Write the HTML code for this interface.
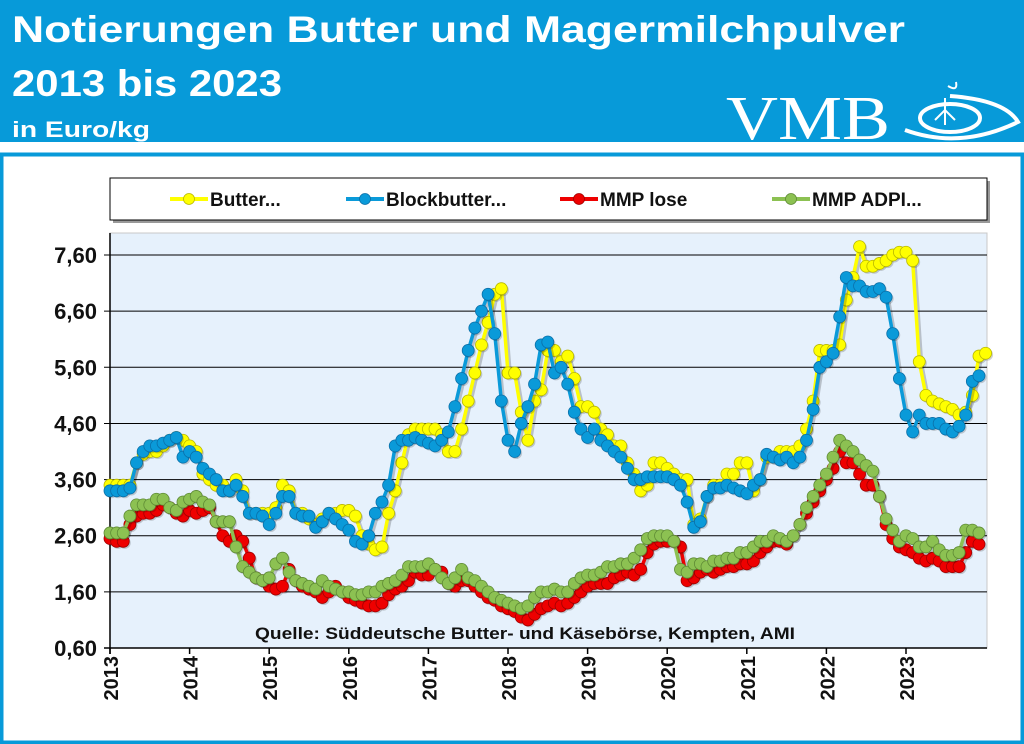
<!DOCTYPE html>
<html><head><meta charset="utf-8"><style>
html,body{margin:0;padding:0;background:#fff;}
svg{display:block;}
text{font-family:"Liberation Sans",sans-serif;}
</style></head><body>
<svg id="s" width="1024" height="744" viewBox="0 0 1024 744" xmlns="http://www.w3.org/2000/svg">
<rect x="0" y="0" width="1024" height="142" fill="#079ad9"/>
<rect x="1.5" y="154.5" width="1021" height="588" fill="#fff" stroke="#079ad9" stroke-width="4"/>
<text x="12" y="42" fill="#fff" font-size="37" font-weight="bold" textLength="893" lengthAdjust="spacingAndGlyphs">Notierungen Butter und Magermilchpulver</text>
<text x="12" y="96" fill="#fff" font-size="37" font-weight="bold" textLength="270" lengthAdjust="spacingAndGlyphs">2013 bis 2023</text>
<text x="12" y="137" fill="#fff" font-size="22" font-weight="bold" textLength="138" lengthAdjust="spacingAndGlyphs">in Euro/kg</text>
<text x="726" y="139" fill="#fff" font-size="62" textLength="164" lengthAdjust="spacingAndGlyphs" style="font-family:'Liberation Serif',serif">VMB</text>
<g fill="none" stroke="#fff">
<ellipse cx="950" cy="118" rx="30" ry="14" stroke-width="4"/>
<path d="M905 130 Q960 150 1018 122 Q1005 100 950 96" stroke-width="4"/>
<path d="M945 98 L945 125 M935 120 L945 110 L955 120" stroke-width="2"/>
<path d="M948 86 Q958 92 956 82" stroke-width="2"/>
</g>
<rect x="113" y="181" width="877" height="42" fill="#999"/>
<rect x="110" y="178" width="877" height="42" fill="#fff" stroke="#000" stroke-width="1"/>
<g id="leg"></g>
<rect x="110" y="233" width="877" height="415" fill="#e6f1fc" stroke="#c8c8c8"/>
<g id="grid"></g>
<text x="525" y="639" font-size="16.5" font-weight="bold" text-anchor="middle" fill="#111" textLength="540" lengthAdjust="spacingAndGlyphs">Quelle: Süddeutsche Butter- und Käsebörse, Kempten, AMI</text>
<g id="ser"></g>
</svg>
<script>
const NS="http://www.w3.org/2000/svg";
function el(p,t,a,txt){const e=document.createElementNS(NS,t);for(const k in a)e.setAttribute(k,a[k]);if(txt!=null)e.textContent=txt;p.appendChild(e);return e;}
const X0=110,YR=79.6,y=v=>648-(v-0.6)*56.14;
const g=document.getElementById('grid');
for(let i=0;i<8;i++){const v=0.6+i,yy=y(v);
 if(i>0)el(g,'line',{x1:104,x2:987,y1:yy,y2:yy,stroke:'#000','stroke-width':1});
 el(g,'text',{x:97,y:yy+8,'font-size':22,'font-weight':'bold','text-anchor':'end',fill:'#111'},v.toFixed(2).replace('.',','));}
el(g,'line',{x1:110,x2:110,y1:233,y2:654,stroke:'#000','stroke-width':1.5});
el(g,'line',{x1:104,x2:987,y1:648,y2:648,stroke:'#000','stroke-width':1.5});
for(let i=0;i<11;i++){const xx=X0+i*YR;
 el(g,'line',{x1:xx,x2:xx,y1:648,y2:654,stroke:'#000','stroke-width':1.5});
 el(g,'text',{x:0,y:0,'font-size':20,'font-weight':'bold','text-anchor':'end',fill:'#111',transform:`translate(${xx+8},656) rotate(-90)`},2013+i);}
const B=[3.5,3.5,3.5,3.5,3.9,4.05,4.1,4.1,4.2,4.3,4.35,4.3,4.2,4.1,3.7,3.6,3.5,3.5,3.4,3.6,3.4,3.0,3.0,3.0,3.0,3.1,3.5,3.4,3.0,3.0,2.9,2.8,2.9,3.0,3.0,3.05,3.05,2.95,2.6,2.45,2.35,2.4,3.0,3.4,3.9,4.4,4.5,4.5,4.5,4.5,4.4,4.1,4.1,4.5,5.0,5.5,6.0,6.4,6.9,7.0,5.5,5.5,4.8,4.3,5.0,5.2,5.9,5.9,5.7,5.8,5.4,4.9,4.9,4.8,4.5,4.4,4.2,4.2,3.9,3.7,3.4,3.5,3.9,3.9,3.8,3.7,3.6,3.6,2.8,2.9,3.3,3.5,3.5,3.7,3.7,3.9,3.9,3.4,3.6,4.0,4.0,4.1,4.1,4.1,4.2,4.5,5.0,5.9,5.9,5.9,6.0,6.8,7.2,7.75,7.4,7.4,7.45,7.5,7.6,7.65,7.65,7.5,5.7,5.1,5.0,4.95,4.9,4.85,4.75,4.8,5.1,5.8,5.85];
const K=[3.4,3.4,3.4,3.45,3.9,4.1,4.2,4.2,4.25,4.3,4.35,4.0,4.1,4.0,3.8,3.7,3.6,3.4,3.4,3.5,3.3,3.0,3.0,2.95,2.8,3.0,3.3,3.3,3.0,2.95,2.95,2.75,2.85,3.0,2.9,2.8,2.7,2.5,2.45,2.6,3.0,3.2,3.5,4.2,4.3,4.3,4.35,4.3,4.25,4.2,4.3,4.45,4.9,5.4,5.9,6.3,6.6,6.9,6.2,5.0,4.3,4.1,4.6,4.9,5.3,6.0,6.05,5.5,5.6,5.3,4.8,4.5,4.35,4.5,4.3,4.2,4.1,4.0,3.8,3.6,3.6,3.65,3.65,3.65,3.65,3.6,3.5,3.2,2.75,2.85,3.3,3.45,3.45,3.5,3.45,3.4,3.35,3.5,3.6,4.05,4.0,3.95,4.0,3.9,4.0,4.3,4.85,5.6,5.7,5.85,6.5,7.2,7.05,7.05,6.95,6.95,7.0,6.85,6.2,5.4,4.75,4.45,4.75,4.6,4.6,4.6,4.5,4.45,4.55,4.75,5.35,5.45];
const R=[2.55,2.5,2.5,2.8,2.95,3.0,3.0,3.05,3.15,3.1,3.0,2.95,3.05,3.0,3.05,3.1,2.85,2.6,2.5,2.6,2.5,2.2,1.85,1.8,1.7,1.65,1.7,2.0,1.8,1.7,1.65,1.6,1.5,1.6,1.7,1.6,1.5,1.45,1.4,1.35,1.35,1.4,1.55,1.65,1.7,1.8,1.95,1.9,1.9,2.0,1.95,1.75,1.7,1.8,1.8,1.7,1.6,1.5,1.45,1.35,1.3,1.25,1.15,1.1,1.2,1.3,1.35,1.4,1.35,1.4,1.5,1.6,1.7,1.75,1.75,1.75,1.85,1.9,1.95,1.9,2.0,2.3,2.45,2.5,2.5,2.5,2.4,1.8,1.85,1.95,2.0,1.95,2.0,2.05,2.05,2.1,2.1,2.15,2.3,2.4,2.5,2.5,2.45,2.6,2.8,3.0,3.2,3.4,3.6,3.8,4.1,3.9,3.9,3.7,3.5,3.5,3.3,2.8,2.55,2.4,2.35,2.3,2.2,2.15,2.2,2.15,2.05,2.05,2.05,2.3,2.5,2.45];
const G=[2.65,2.65,2.65,2.95,3.15,3.15,3.15,3.25,3.25,3.1,3.05,3.2,3.25,3.3,3.2,3.15,2.85,2.85,2.85,2.4,2.05,1.95,1.85,1.8,1.85,2.1,2.2,1.95,1.8,1.75,1.7,1.65,1.8,1.7,1.65,1.6,1.6,1.55,1.55,1.6,1.6,1.7,1.75,1.8,1.9,2.05,2.05,2.05,2.1,2.0,1.85,1.75,1.85,2.0,1.85,1.8,1.7,1.6,1.5,1.45,1.4,1.35,1.3,1.35,1.5,1.6,1.6,1.65,1.6,1.6,1.75,1.85,1.9,1.9,1.95,2.05,2.05,2.1,2.1,2.2,2.35,2.55,2.6,2.6,2.6,2.5,2.0,1.95,2.1,2.1,2.05,2.15,2.15,2.2,2.2,2.3,2.3,2.4,2.5,2.5,2.6,2.55,2.5,2.6,2.8,3.1,3.3,3.5,3.7,4.0,4.3,4.2,4.1,3.95,3.85,3.75,3.3,2.9,2.7,2.5,2.6,2.55,2.4,2.4,2.5,2.35,2.25,2.25,2.3,2.7,2.7,2.65];
const S=[[B,'#ffff00','#b8b800'],[K,'#0a9ad9','#0a6fa8'],[R,'#ee0000','#a00000'],[G,'#8cc152','#5e8a35']];
const sg=document.getElementById('ser');
S.forEach(([d,c,o])=>{
 const pts=d.map((v,i)=>[X0+i*YR/12,y(v)]);
 el(sg,'polyline',{points:pts.map(p=>(p[0]+2)+','+(p[1]+2)).join(' '),fill:'none',stroke:'rgba(0,0,0,0.2)','stroke-width':4});
 el(sg,'polyline',{points:pts.map(p=>p.join(',')).join(' '),fill:'none',stroke:c,'stroke-width':3.5});
 pts.forEach(p=>{el(sg,'circle',{cx:p[0]+1.5,cy:p[1]+1.5,r:6,fill:'rgba(0,0,0,0.18)'});el(sg,'circle',{cx:p[0],cy:p[1],r:6,fill:c,stroke:o,'stroke-width':0.8});});
});
const lg=document.getElementById('leg');
[['Butter...',170,'#ffff00','#b8b800'],['Blockbutter...',346,'#0a9ad9','#0a6fa8'],['MMP lose',560,'#ee0000','#a00000'],['MMP ADPI...',772,'#8cc152','#5e8a35']].forEach(([t,x,c,o])=>{
 el(lg,'line',{x1:x,x2:x+38,y1:199,y2:199,stroke:c,'stroke-width':4});
 el(lg,'circle',{cx:x+19,cy:199,r:5.5,fill:c,stroke:o,'stroke-width':0.8});
 el(lg,'text',{x:x+40,y:206,'font-size':19,'font-weight':'bold',fill:'#111'},t);
});
</script>
</body></html>
